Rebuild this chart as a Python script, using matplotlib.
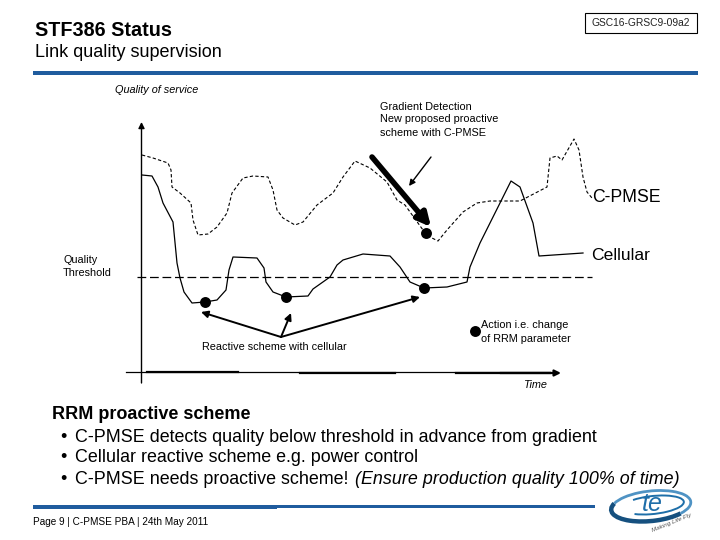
import matplotlib
matplotlib.use("Agg")
import matplotlib.pyplot as plt
from matplotlib.patches import Rectangle, Arc, FancyArrowPatch

plt.rcParams['font.family'] = ['Liberation Sans', 'DejaVu Sans']

BLUE = '#1f5c9e'
pmse_x = [142,153,168,171,172,180,191,193,198,208,217,227,232,243,253,268,273,277,283,295,303,317,333,343,355,370,387,397,405,423,430,438,447,463,477,490,520,547,550,557,562,574,579,583,587,592]
pmse_y = [155,158,163,170,187,193,203,220,235,234,227,213,193,178,176,177,190,210,218,225,222,205,193,177,161,168,182,200,205,230,237,241,230,212,203,201,201,187,158,156,160,139,150,177,192,198]
cell_x = [142,152,158,163,173,177,180,184,192,205,217,226,229,233,257,264,266,273,286,308,313,330,337,343,363,390,400,410,424,447,467,470,480,495,511,520,533,539,583]
cell_y = [175,176,187,203,222,263,278,292,303,302,300,290,270,257,258,268,282,292,297,296,289,277,265,260,254,256,267,282,288,287,282,267,243,213,181,187,223,256,253]
threshold_x = [137, 592]
threshold_y = [276.5, 276.5]
action_x = [205, 286, 424, 426, 475]
action_y = [302, 297, 288, 233, 331]
body_lines = ["C-PMSE detects quality below threshold in advance from gradient",
              "Cellular reactive scheme e.g. power control",
              "C-PMSE needs proactive scheme! "]

fig = plt.figure(figsize=(7.2, 5.4), dpi=100)
ax = fig.add_axes([0, 0, 1, 1])
ax.set_xlim(0, 720)
ax.set_ylim(540, 0)
ax.axis('off')

# header / footer
ax.text(35, 30, "STF386 Status", fontsize=14.2, fontweight='bold', va='center')
ax.text(35, 52.5, "Link quality supervision", fontsize=13, va='center')
ax.add_patch(Rectangle((585, 12.5), 112, 20, fill=False, ec='black', lw=0.8))
ax.text(641, 22.5, "GSC16-GRSC9-09a2", fontsize=7.4, ha='center', va='center', color='#222222')
ax.add_patch(Rectangle((33, 70.5), 665, 4, fc=BLUE, ec='none'))
ax.add_patch(Rectangle((33, 505), 244, 3.6, fc=BLUE, ec='none'))
ax.add_patch(Rectangle((277, 505), 188, 2.8, fc=BLUE, ec='none'))
ax.add_patch(Rectangle((465, 504.5), 130, 3, fc=BLUE, ec='none'))
ax.text(33, 522, "Page 9 | C-PMSE PBA | 24th May 2011", fontsize=7.2, va='center')

# chart
ax.plot(pmse_x, pmse_y, color='black', lw=0.8, ls=(0, (3, 2)))
ax.plot(cell_x, cell_y, color='black', lw=0.9)
ax.plot(threshold_x, threshold_y, color='black', lw=0.9, ls=(0, (7, 3)))
ax.scatter(action_x, action_y, s=62, color='black', zorder=4, linewidths=0)

def arrow(a, b, lw, ms):
    ax.add_patch(FancyArrowPatch(a, b, arrowstyle='-|>', mutation_scale=ms, lw=lw,
                                 color='black', shrinkA=0, shrinkB=0, zorder=3))

arrow((141.5, 383), (141.5, 122), 1.0, 9)
ax.plot([126, 550], [372, 372], color='black', lw=0.9)
ax.plot([147, 238], [372.3, 372.3], color='black', lw=1.6)
ax.plot([300, 395], [372.8, 372.8], color='black', lw=1.6)
ax.plot([456, 550], [373, 373], color='black', lw=1.6)
arrow((500, 373), (561, 373), 1.6, 9)
arrow((281, 337), (201, 312), 1.4, 10)
arrow((281, 337), (291, 313), 1.4, 10)
arrow((281, 337), (420, 297), 1.4, 10)
arrow((372, 157), (431, 227), 4, 20)
arrow((431, 157), (409, 186), 1.0, 9)

ax.text(115, 90, "Quality of service", fontsize=7.85, style='italic', va='center')
ax.text(380, 106.5, "Gradient Detection", fontsize=7.85, va='center')
ax.text(380, 119.5, "New proposed proactive", fontsize=7.85, va='center')
ax.text(380, 132.5, "scheme with C-PMSE", fontsize=7.85, va='center')
ax.text(592, 198, "C-PMSE", fontsize=12.7, va='center')
ax.text(591, 255, "Cellular", fontsize=12.6, va='center')
ax.text(63, 260, "Quality", fontsize=7.85, va='center')
ax.text(63, 273, "Threshold", fontsize=7.85, va='center')
ax.text(202, 346.5, "Reactive scheme with cellular", fontsize=7.85, va='center')
ax.text(481, 325.5, "Action i.e. change", fontsize=7.85, va='center')
ax.text(481, 338.5, "of RRM parameter", fontsize=7.85, va='center')
ax.text(523, 385.5, "Time", fontsize=7.85, style='italic', va='center')

# body
ax.text(52, 414.5, "RRM proactive scheme", fontsize=13, fontweight='bold', va='center')
for y, line in zip([437, 458, 480], body_lines):
    ax.text(60, y, "•", fontsize=12.85, va='center')
    ax.text(75, y, line, fontsize=12.85, va='center')
ax.text(355, 480, "(Ensure production quality 100% of time)", fontsize=12.85, style='italic', va='center')

# logo
ax.add_patch(Arc((651, 506), 80, 30, angle=-6, theta1=20, theta2=190, color='#15507f', lw=3.2))
ax.add_patch(Arc((651, 506), 80, 30, angle=-6, theta1=190, theta2=380, color='#4f93c4', lw=2.0))
ax.add_patch(Arc((653, 505), 62, 18, angle=-6, theta1=200, theta2=520, color='#1d6ea8', lw=1.4))
ax.text(652, 504, "te", fontsize=18, style='italic', color='#1f6ea9', ha='center', va='center')
ax.text(672, 523, "Making Life Fly", fontsize=4.5, style='italic', color='#555555', rotation=22, ha='center', va='center')

fig.savefig("out.png", dpi=100)
